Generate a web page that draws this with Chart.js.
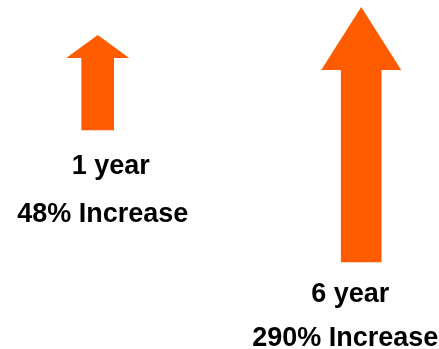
<!DOCTYPE html>
<html>
<head>
<meta charset="utf-8">
<script src="https://cdn.jsdelivr.net/npm/chart.js@4.4.1/dist/chart.umd.min.js"></script>
<style>
  html, body { margin: 0; padding: 0; background: #fff; }
  #wrap { width: 439px; height: 349px; }
</style>
</head>
<body>
<div id="wrap"><canvas id="arrowChart"></canvas></div>
<script>
// Data (hidden vertical scale runs 0..349)
const years = [1, 6];
const shaftBottom = [219, 87];
const headBottom = [291, 279];
const headTip = [314, 342];
const periodLabels = ['1 year', '6 year'];
const increaseLabels = ['48% Increase', '290% Increase'];

const ORANGE = '#ff5b00';
const shaftWidth = [32, 40];
const headWidth = [63, 80];
// text offsets from the bottom centre of each arrow [dx, dy]
const periodOffset = [[13, 44], [-11, 40]];
const increaseOffset = [[5, 92], [-16, 84]];

const datasets = [];
years.forEach((yr, i) => {
    datasets.push({
        label: 'shaft ' + periodLabels[i],
        data: [{ x: yr, y: [shaftBottom[i], headBottom[i]] }],
        backgroundColor: ORANGE,
        barThickness: shaftWidth[i],
        arrowIndex: i
    });
    datasets.push({
        label: 'head ' + periodLabels[i],
        data: [{ x: yr, y: [headBottom[i], headTip[i]] }],
        backgroundColor: 'rgba(0,0,0,0)',
        barThickness: headWidth[i],
        isHead: true
    });
});

// draws the triangle heads and the text under each arrow
const arrowPlugin = {
    id: 'arrowPlugin',
    afterDatasetsDraw(chart) {
        const ctx = chart.ctx;
        ctx.save();
        chart.data.datasets.forEach((ds, di) => {
            const el = chart.getDatasetMeta(di).data[0];
            if (!el) return;
            if (ds.isHead) {
                ctx.fillStyle = ORANGE;
                ctx.beginPath();
                ctx.moveTo(el.x - el.width / 2, el.base);
                ctx.lineTo(el.x + el.width / 2, el.base);
                ctx.lineTo(el.x, el.y);
                ctx.closePath();
                ctx.fill();
            } else {
                const i = ds.arrowIndex;
                ctx.fillStyle = '#000';
                ctx.font = "bold 27px 'Liberation Sans', Arial, sans-serif";
                ctx.textAlign = 'center';
                ctx.textBaseline = 'alphabetic';
                ctx.fillText(periodLabels[i], el.x + periodOffset[i][0], el.base + periodOffset[i][1]);
                ctx.fillText(increaseLabels[i], el.x + increaseOffset[i][0], el.base + increaseOffset[i][1]);
            }
        });
        ctx.restore();
    }
};

const ctx = document.getElementById('arrowChart').getContext('2d');
new Chart(ctx, {
    type: 'bar',
    data: { datasets: datasets },
    options: {
        responsive: true,
        maintainAspectRatio: false,
        animation: false,
        layout: { padding: { left: 45, right: 4, top: 0, bottom: 0 } },
        plugins: {
            legend: { display: false },
            tooltip: { enabled: false }
        },
        scales: {
            x: { type: 'linear', stacked: true, offset: false, min: 0, max: 7.4, display: false },
            y: { min: 0, max: 349, display: false }
        }
    },
    plugins: [arrowPlugin]
});
</script>
</body>
</html>
